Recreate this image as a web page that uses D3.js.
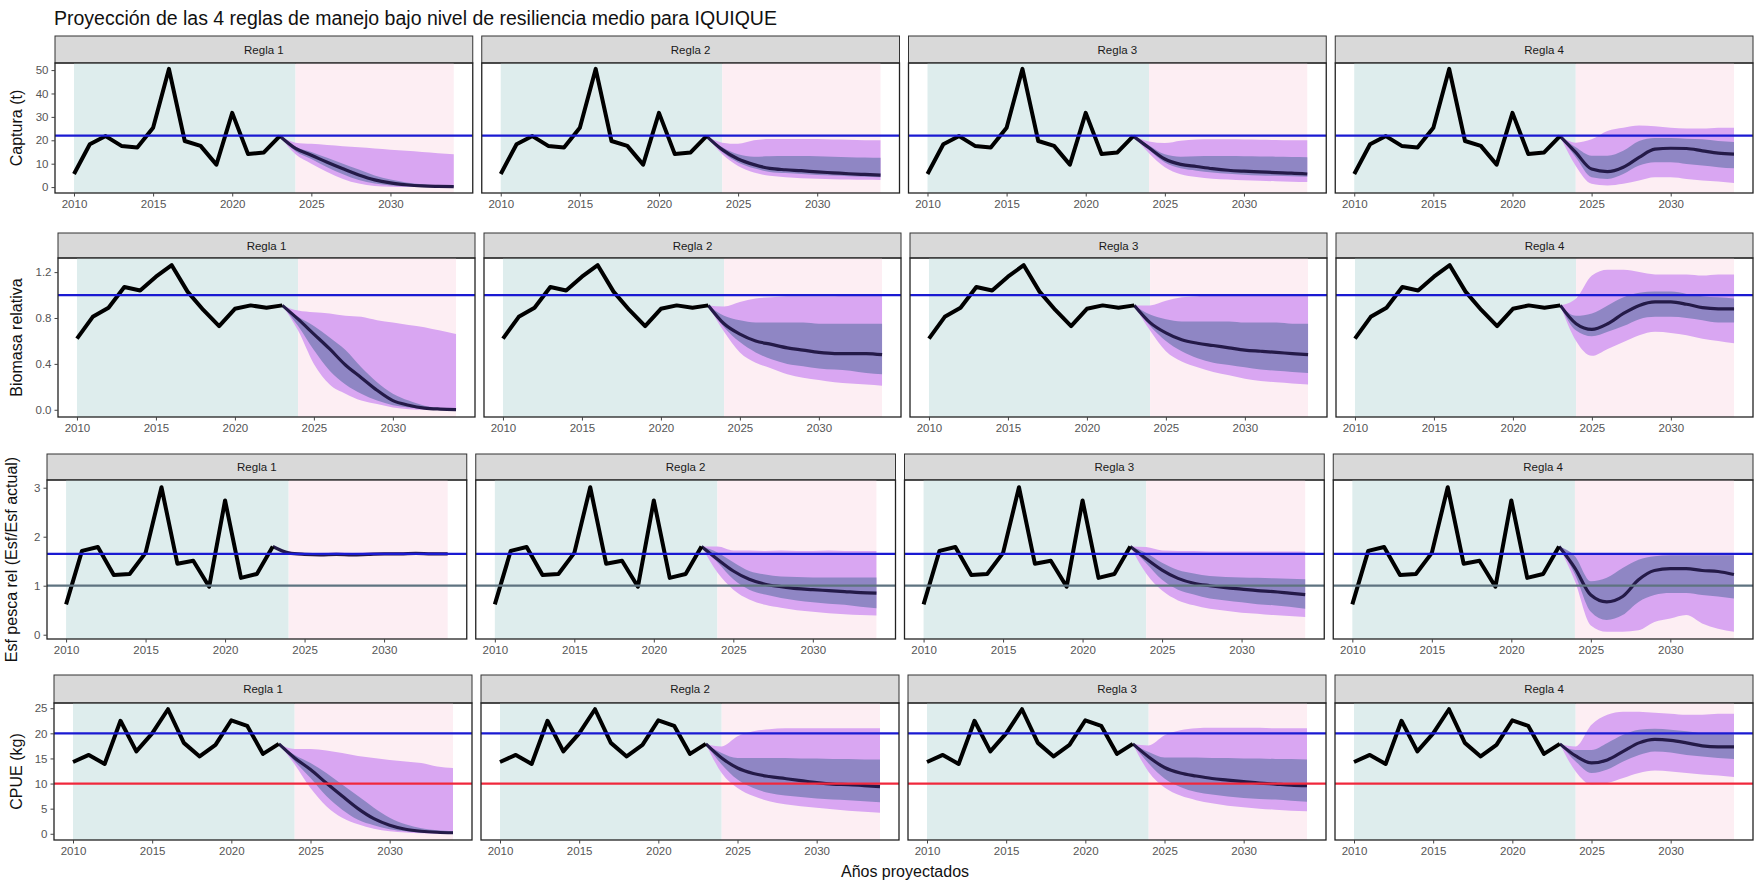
<!DOCTYPE html>
<html>
<head>
<meta charset="utf-8">
<script src="https://cdn.jsdelivr.net/npm/d3@7"></script>
<style>
  body { margin: 0; background: #fff; }
  text { font-family: "Liberation Sans", Arial, sans-serif; }
</style>
</head>
<body>
<svg id="chart"></svg>
<script>

// ---- data ----
var rules = ["Regla 1", "Regla 2", "Regla 3", "Regla 4"];
var years_hist = [2010, 2011, 2012, 2013, 2014, 2015, 2016, 2017, 2018, 2019, 2020, 2021, 2022, 2023];
var years_proj = [2023, 2024, 2025, 2026, 2027, 2028, 2029, 2030, 2031, 2032, 2033, 2034];
var x_ticks = [2010, 2015, 2020, 2025, 2030];

var captura_hist = [5.6, 18.3, 21.8, 17.6, 16.9, 25.4, 50.5, 19.7, 17.6, 9.6, 31.7, 14.1, 14.8, 21.8];
var biomasa_hist = [0.62, 0.81, 0.89, 1.07, 1.04, 1.16, 1.26, 1.03, 0.87, 0.73, 0.88, 0.91, 0.89, 0.91];
var esfuerzo_hist = [0.62, 1.71, 1.79, 1.22, 1.24, 1.67, 3.01, 1.45, 1.51, 0.98, 2.74, 1.16, 1.24, 1.80];
var cpue_hist = [14.3, 15.7, 13.9, 22.5, 16.4, 20.0, 24.8, 18.1, 15.4, 17.7, 22.6, 21.5, 15.9, 17.9];

// reference lines
var captura_ref = [22];
var biomasa_ref = [1];
var esfuerzo_ref = [1.65, 1];
var cpue_ref = [20, 10];

// y tick values
var captura_ticks = [0, 10, 20, 30, 40, 50];
var biomasa_ticks = [0, 0.4, 0.8, 1.2];
var esfuerzo_ticks = [0, 1, 2, 3];
var cpue_ticks = [0, 5, 10, 15, 20, 25];

// projections per rule: median, 95% band, 50% band (years_proj)
var captura_proj = [
  { med:  [21.8, 16.5, 13.6, 10.6, 7.8, 5.2, 3.1, 1.8, 1.0, 0.5, 0.3, 0.2],
    hi95: [21.8, 19.0, 18.5, 18.0, 17.5, 17.0, 16.5, 16.0, 15.5, 15.0, 14.5, 14.0],
    lo95: [21.8, 14.0, 10.0, 6.5, 3.5, 1.5, 0.5, 0.1, 0, 0, 0, 0],
    hi50: [21.8, 17.2, 15.0, 12.5, 10.0, 7.5, 5.0, 3.2, 2.0, 1.2, 0.7, 0.5],
    lo50: [21.8, 15.3, 12.0, 8.5, 5.5, 3.0, 1.5, 0.7, 0.3, 0.1, 0.05, 0] },
  { med:  [21.8, 16.0, 12.0, 9.6, 8.0, 7.4, 7.0, 6.5, 6.1, 5.7, 5.4, 5.1],
    hi95: [21.8, 19.0, 18.5, 20.0, 20.5, 20.5, 20.5, 20.5, 20.3, 20.2, 20.0, 20.0],
    lo95: [21.8, 14.0, 9.0, 6.2, 4.8, 4.2, 3.8, 3.6, 3.4, 3.2, 3.1, 3.0],
    hi50: [21.8, 17.0, 14.0, 13.0, 13.2, 13.3, 13.3, 13.2, 13.0, 12.8, 12.6, 12.5],
    lo50: [21.8, 15.0, 10.5, 8.0, 6.5, 6.0, 5.6, 5.2, 4.9, 4.6, 4.4, 4.2] },
  { med:  [21.8, 16.8, 12.0, 9.7, 8.8, 7.9, 7.2, 6.8, 6.5, 6.2, 6.0, 5.6],
    hi95: [21.8, 19.5, 18.8, 19.8, 20.3, 20.4, 20.4, 20.3, 20.2, 20.1, 20.0, 20.0],
    lo95: [21.8, 14.5, 8.5, 5.5, 4.3, 3.6, 3.2, 2.9, 2.7, 2.5, 2.3, 2.2],
    hi50: [21.8, 17.8, 14.0, 13.0, 13.2, 13.3, 13.3, 13.2, 13.1, 13.0, 12.9, 12.8],
    lo50: [21.8, 15.8, 10.5, 8.0, 7.0, 6.2, 5.7, 5.3, 5.0, 4.8, 4.6, 4.4] },
  { med:  [21.8, 14.8, 7.7, 6.6, 8.5, 12.7, 16.2, 16.6, 16.5, 15.5, 14.5, 14.1],
    hi95: [21.8, 19.0, 20.4, 24.0, 25.4, 26.3, 26.0, 25.4, 25.0, 25.0, 25.4, 25.4],
    lo95: [21.8, 9.0, 1.4, 0.7, 1.4, 2.8, 4.2, 4.2, 3.5, 2.8, 2.4, 1.8],
    hi50: [21.8, 17.0, 13.4, 13.4, 15.5, 19.7, 21.0, 21.0, 20.7, 20.4, 19.7, 19.3],
    lo50: [21.8, 12.7, 4.2, 3.5, 5.6, 9.2, 10.6, 10.6, 9.9, 9.2, 8.5, 8.0] }
];

var biomasa_proj = [
  { med:  [0.91, 0.79, 0.66, 0.53, 0.39, 0.28, 0.17, 0.08, 0.04, 0.015, 0.006, 0.002],
    hi95: [0.91, 0.865, 0.85, 0.84, 0.82, 0.81, 0.78, 0.76, 0.74, 0.72, 0.69, 0.66],
    lo95: [0.91, 0.69, 0.40, 0.22, 0.14, 0.08, 0.05, 0.02, 0.005, 0, 0, 0],
    hi50: [0.91, 0.81, 0.73, 0.63, 0.52, 0.37, 0.24, 0.14, 0.08, 0.035, 0.015, 0.006],
    lo50: [0.91, 0.73, 0.52, 0.34, 0.22, 0.14, 0.08, 0.04, 0.02, 0.01, 0, 0] },
  { med:  [0.91, 0.75, 0.66, 0.60, 0.57, 0.54, 0.52, 0.50, 0.49, 0.49, 0.49, 0.48],
    hi95: [0.91, 0.90, 0.94, 0.97, 0.98, 0.99, 0.99, 0.99, 0.99, 1.0, 1.0, 1.0],
    lo95: [0.91, 0.68, 0.50, 0.41, 0.36, 0.31, 0.28, 0.26, 0.24, 0.23, 0.22, 0.21],
    hi50: [0.91, 0.82, 0.78, 0.76, 0.76, 0.76, 0.76, 0.75, 0.75, 0.75, 0.75, 0.75],
    lo50: [0.91, 0.72, 0.59, 0.50, 0.44, 0.40, 0.38, 0.36, 0.35, 0.34, 0.32, 0.31] },
  { med:  [0.91, 0.76, 0.67, 0.61, 0.58, 0.56, 0.54, 0.52, 0.51, 0.50, 0.49, 0.48],
    hi95: [0.91, 0.91, 0.95, 0.98, 0.99, 1.0, 1.0, 1.0, 1.0, 1.0, 1.0, 1.0],
    lo95: [0.91, 0.69, 0.51, 0.42, 0.37, 0.33, 0.30, 0.27, 0.25, 0.24, 0.23, 0.22],
    hi50: [0.91, 0.83, 0.79, 0.77, 0.77, 0.77, 0.77, 0.76, 0.76, 0.76, 0.75, 0.75],
    lo50: [0.91, 0.73, 0.60, 0.51, 0.45, 0.41, 0.39, 0.37, 0.35, 0.34, 0.33, 0.32] },
  { med:  [0.91, 0.75, 0.70, 0.75, 0.84, 0.91, 0.94, 0.94, 0.92, 0.89, 0.88, 0.88],
    hi95: [0.91, 0.97, 1.17, 1.22, 1.22, 1.20, 1.18, 1.18, 1.18, 1.17, 1.18, 1.18],
    lo95: [0.91, 0.60, 0.47, 0.53, 0.59, 0.65, 0.68, 0.67, 0.65, 0.62, 0.60, 0.58],
    hi50: [0.91, 0.82, 0.84, 0.91, 0.98, 1.02, 1.03, 1.03, 1.01, 0.99, 0.98, 0.97],
    lo50: [0.91, 0.69, 0.64, 0.68, 0.73, 0.79, 0.81, 0.81, 0.80, 0.78, 0.76, 0.76] }
];

var esfuerzo_proj = [
  { med:  [1.80, 1.67, 1.64, 1.63, 1.64, 1.63, 1.64, 1.65, 1.65, 1.66, 1.65, 1.65],
    hi95: [1.80, 1.70, 1.67, 1.67, 1.68, 1.67, 1.68, 1.68, 1.69, 1.69, 1.69, 1.68],
    lo95: [1.80, 1.64, 1.61, 1.60, 1.61, 1.60, 1.61, 1.62, 1.62, 1.63, 1.62, 1.62],
    hi50: [1.80, 1.68, 1.65, 1.65, 1.66, 1.65, 1.66, 1.66, 1.67, 1.67, 1.67, 1.66],
    lo50: [1.80, 1.66, 1.63, 1.62, 1.63, 1.62, 1.63, 1.64, 1.64, 1.65, 1.64, 1.64] },
  { med:  [1.80, 1.54, 1.30, 1.13, 1.03, 0.98, 0.94, 0.92, 0.90, 0.88, 0.86, 0.85],
    hi95: [1.80, 1.80, 1.72, 1.72, 1.71, 1.72, 1.71, 1.71, 1.72, 1.71, 1.71, 1.71],
    lo95: [1.80, 1.27, 0.92, 0.72, 0.61, 0.55, 0.50, 0.47, 0.44, 0.42, 0.40, 0.39],
    hi50: [1.80, 1.68, 1.48, 1.30, 1.23, 1.19, 1.18, 1.17, 1.17, 1.17, 1.17, 1.17],
    lo50: [1.80, 1.48, 1.13, 0.92, 0.82, 0.75, 0.70, 0.66, 0.63, 0.61, 0.57, 0.54] },
  { med:  [1.80, 1.55, 1.32, 1.15, 1.05, 1.00, 0.96, 0.93, 0.90, 0.88, 0.85, 0.82],
    hi95: [1.80, 1.79, 1.72, 1.71, 1.71, 1.70, 1.70, 1.70, 1.70, 1.70, 1.70, 1.70],
    lo95: [1.80, 1.25, 0.90, 0.70, 0.60, 0.53, 0.49, 0.45, 0.43, 0.40, 0.38, 0.36],
    hi50: [1.80, 1.67, 1.47, 1.32, 1.25, 1.20, 1.18, 1.17, 1.16, 1.15, 1.14, 1.13],
    lo50: [1.80, 1.46, 1.12, 0.92, 0.82, 0.74, 0.70, 0.66, 0.62, 0.60, 0.57, 0.53] },
  { med:  [1.80, 1.36, 0.81, 0.67, 0.78, 1.12, 1.31, 1.35, 1.35, 1.31, 1.29, 1.23],
    hi95: [1.80, 1.66, 1.64, 1.64, 1.65, 1.65, 1.65, 1.65, 1.65, 1.65, 1.65, 1.65],
    lo95: [1.80, 1.09, 0.19, 0.06, 0.06, 0.09, 0.26, 0.33, 0.40, 0.23, 0.12, 0.06],
    hi50: [1.80, 1.60, 1.09, 1.16, 1.36, 1.53, 1.60, 1.62, 1.62, 1.62, 1.62, 1.62],
    lo50: [1.80, 1.23, 0.47, 0.30, 0.40, 0.67, 0.81, 0.85, 0.85, 0.81, 0.78, 0.74] }
];

var cpue_proj = [
  { med:  [17.9, 15.1, 12.8, 10.1, 7.5, 5.0, 3.0, 1.7, 0.9, 0.5, 0.3, 0.2],
    hi95: [17.9, 16.9, 16.9, 16.6, 16.1, 15.5, 15.1, 14.7, 14.4, 14.1, 13.4, 13.1],
    lo95: [17.9, 13.8, 9.1, 5.5, 3.2, 1.9, 1.0, 0.5, 0.25, 0.1, 0, 0],
    hi50: [17.9, 15.7, 14.1, 12.1, 9.8, 7.5, 5.2, 3.2, 1.9, 1.1, 0.7, 0.5],
    lo50: [17.9, 14.4, 11.1, 7.5, 4.8, 2.8, 1.7, 0.9, 0.5, 0.2, 0.1, 0] },
  { med:  [17.9, 15.1, 13.1, 12.0, 11.4, 11.0, 10.6, 10.2, 9.9, 9.8, 9.6, 9.4],
    hi95: [17.9, 17.4, 19.4, 20.4, 20.8, 21.0, 21.0, 21.0, 21.0, 21.0, 21.0, 21.0],
    lo95: [17.9, 12.1, 9.1, 7.5, 6.5, 5.9, 5.5, 5.2, 4.9, 4.6, 4.4, 4.2],
    hi50: [17.9, 16.1, 15.1, 15.1, 15.1, 15.1, 15.0, 15.0, 14.9, 14.9, 14.8, 14.8],
    lo50: [17.9, 13.8, 10.8, 9.1, 8.1, 7.6, 7.3, 7.0, 6.8, 6.7, 6.5, 6.3] },
  { med:  [17.9, 15.3, 13.2, 12.1, 11.5, 11.0, 10.7, 10.4, 10.1, 9.9, 9.7, 9.6],
    hi95: [17.9, 17.6, 19.6, 20.6, 21.0, 21.1, 21.1, 21.1, 21.1, 21.0, 21.0, 21.0],
    lo95: [17.9, 12.3, 9.2, 7.6, 6.7, 6.1, 5.6, 5.3, 5.0, 4.8, 4.6, 4.5],
    hi50: [17.9, 16.3, 15.2, 15.2, 15.2, 15.1, 15.1, 15.0, 15.0, 14.9, 14.9, 14.8],
    lo50: [17.9, 14.0, 11.0, 9.3, 8.3, 7.8, 7.4, 7.1, 6.9, 6.8, 6.6, 6.4] },
  { med:  [17.9, 15.5, 14.1, 14.7, 16.4, 18.1, 18.8, 18.6, 18.1, 17.5, 17.3, 17.3],
    hi95: [17.9, 17.4, 21.7, 23.7, 24.3, 24.3, 24.1, 23.9, 23.7, 23.7, 23.9, 23.9],
    lo95: [17.9, 12.4, 9.8, 10.1, 11.1, 12.1, 12.6, 12.4, 12.1, 11.8, 11.6, 11.3],
    hi50: [17.9, 16.7, 16.7, 18.1, 19.7, 20.7, 20.9, 20.7, 20.4, 20.0, 19.9, 19.8],
    lo50: [17.9, 14.4, 12.1, 12.8, 14.4, 15.7, 16.4, 16.2, 15.7, 15.4, 15.1, 14.9] }
];

// ---- layout ----
var W = 1756, H = 882;
var right = 1753, gap = 9;

var rows = [
  { label: "Captura (t)", hist: captura_hist, proj: captura_proj, refs: captura_ref, refCol: ["#1a1ad2"],
    ticks: captura_ticks, fmt: d3.format("d"), stripTop: 36, top: 63, bottom: 193, left: 55, labX: 22 },
  { label: "Biomasa relativa", hist: biomasa_hist, proj: biomasa_proj, refs: biomasa_ref, refCol: ["#1a1ad2"],
    ticks: biomasa_ticks, fmt: d3.format(".1f"), stripTop: 233, top: 258, bottom: 417, left: 58, labX: 22 },
  { label: "Esf pesca rel (Esf/Esf actual)", hist: esfuerzo_hist, proj: esfuerzo_proj, refs: esfuerzo_ref, refCol: ["#1a1ad2", "#5e7380"],
    ticks: esfuerzo_ticks, fmt: d3.format("d"), stripTop: 454, top: 480, bottom: 639, left: 47, labX: 17 },
  { label: "CPUE (kg)", hist: cpue_hist, proj: cpue_proj, refs: cpue_ref, refCol: ["#1a1ad2", "#f0283c"],
    ticks: cpue_ticks, fmt: d3.format("d"), stripTop: 675, top: 703, bottom: 840, left: 54, labX: 22 }
];

var svg = d3.select("#chart").attr("width", W).attr("height", H);
svg.append("rect").attr("width", W).attr("height", H).attr("fill", "#fff");

svg.append("text")
  .attr("x", 54).attr("y", 25)
  .attr("font-size", 19.5)
  .attr("fill", "#111")
  .text("Proyección de las 4 reglas de manejo bajo nivel de resiliencia medio para IQUIQUE");

rows.forEach(function(row) {

  // shared y scale for the facets, 5% expansion like ggplot
  var all = row.hist.slice();
  row.proj.forEach(function(p) {
    all = all.concat(p.med, p.hi95, p.lo95, p.hi50, p.lo50);
  });
  all = all.concat(row.refs);
  var lo = d3.min(all), hi = d3.max(all), pad = (hi - lo) * 0.05;
  var y = d3.scaleLinear().domain([lo - pad, hi + pad]).range([row.bottom - row.top, 0]);

  var pw = (right - row.left - 3 * gap) / 4;
  var ph = row.bottom - row.top;

  // y axis title
  svg.append("text")
    .attr("transform", "translate(" + row.labX + "," + ((row.top + row.bottom) / 2) + ") rotate(-90)")
    .attr("text-anchor", "middle")
    .attr("font-size", 16)
    .attr("fill", "#111")
    .text(row.label);

  rules.forEach(function(rule, i) {
    var x0 = row.left + i * (pw + gap);
    var x = d3.scaleLinear().domain([2010 - 1.2, 2034 + 1.2]).range([0, pw]);
    var g = svg.append("g").attr("transform", "translate(" + x0 + "," + row.top + ")");

    // strip
    g.append("rect")
      .attr("x", 0).attr("y", row.stripTop - row.top)
      .attr("width", pw).attr("height", row.top - row.stripTop)
      .attr("fill", "#d9d9d9").attr("stroke", "#333").attr("stroke-width", 1);
    g.append("text")
      .attr("x", pw / 2).attr("y", (row.stripTop - row.top) / 2 + 4)
      .attr("text-anchor", "middle").attr("font-size", 11.5)
      .attr("fill", "#1a1a1a")
      .text(rule);

    // history / projection backgrounds
    g.append("rect")
      .attr("x", x(2010)).attr("y", 0)
      .attr("width", x(2024) - x(2010)).attr("height", ph)
      .attr("fill", "#deeded");
    g.append("rect")
      .attr("x", x(2024)).attr("y", 0)
      .attr("width", x(2034) - x(2024)).attr("height", ph)
      .attr("fill", "#fdeef3");

    var p = row.proj[i];
    var band = function(loK, hiK) {
      return d3.area()
        .x(function(d, k) { return x(years_proj[k]); })
        .y0(function(d, k) { return y(p[loK][k]); })
        .y1(function(d, k) { return y(p[hiK][k]); })
        .curve(d3.curveMonotoneX);
    };
    g.append("path").datum(years_proj)
      .attr("d", band("lo95", "hi95"))
      .attr("fill", "#d9a6f2");
    g.append("path").datum(years_proj)
      .attr("d", band("lo50", "hi50"))
      .attr("fill", "#8f86c4");

    g.append("path").datum(p.med)
      .attr("d", d3.line()
        .x(function(d, k) { return x(years_proj[k]); })
        .y(function(d) { return y(d); })
        .curve(d3.curveMonotoneX))
      .attr("fill", "none").attr("stroke", "#241a48").attr("stroke-width", 3.2);

    g.append("path").datum(row.hist)
      .attr("d", d3.line()
        .x(function(d, k) { return x(years_hist[k]); })
        .y(function(d) { return y(d); }))
      .attr("fill", "none").attr("stroke", "#000").attr("stroke-width", 4)
      .attr("stroke-linejoin", "round");

    // reference lines
    row.refs.forEach(function(v, k) {
      g.append("line")
        .attr("x1", 0).attr("x2", pw)
        .attr("y1", y(v)).attr("y2", y(v))
        .attr("stroke", row.refCol[k]).attr("stroke-width", 2.2);
    });

    // panel border
    g.append("rect")
      .attr("x", 0).attr("y", 0).attr("width", pw).attr("height", ph)
      .attr("fill", "none").attr("stroke", "#222").attr("stroke-width", 1.3);

    // axes: x on every facet, y only on the first one
    var axes = [];
    axes.push(g.append("g").attr("transform", "translate(0," + ph + ")")
      .call(d3.axisBottom(x).tickValues(x_ticks).tickFormat(d3.format("d")).tickSize(3.5).tickPadding(3)));
    if (i === 0) {
      axes.push(g.append("g")
        .call(d3.axisLeft(y).tickValues(row.ticks).tickFormat(row.fmt).tickSize(3.5).tickPadding(3)));
    }
    axes.forEach(function(a) {
      a.select(".domain").remove();
      a.selectAll(".tick line").attr("stroke", "#444");
      a.selectAll(".tick text").attr("fill", "#555").attr("font-size", 11.5)
        .attr("font-family", "'Liberation Sans', Arial, sans-serif");
    });
  });
});

svg.append("text")
  .attr("x", 905).attr("y", 877)
  .attr("text-anchor", "middle")
  .attr("font-size", 16)
  .attr("fill", "#111")
  .text("Años proyectados");

</script>
</body>
</html>
